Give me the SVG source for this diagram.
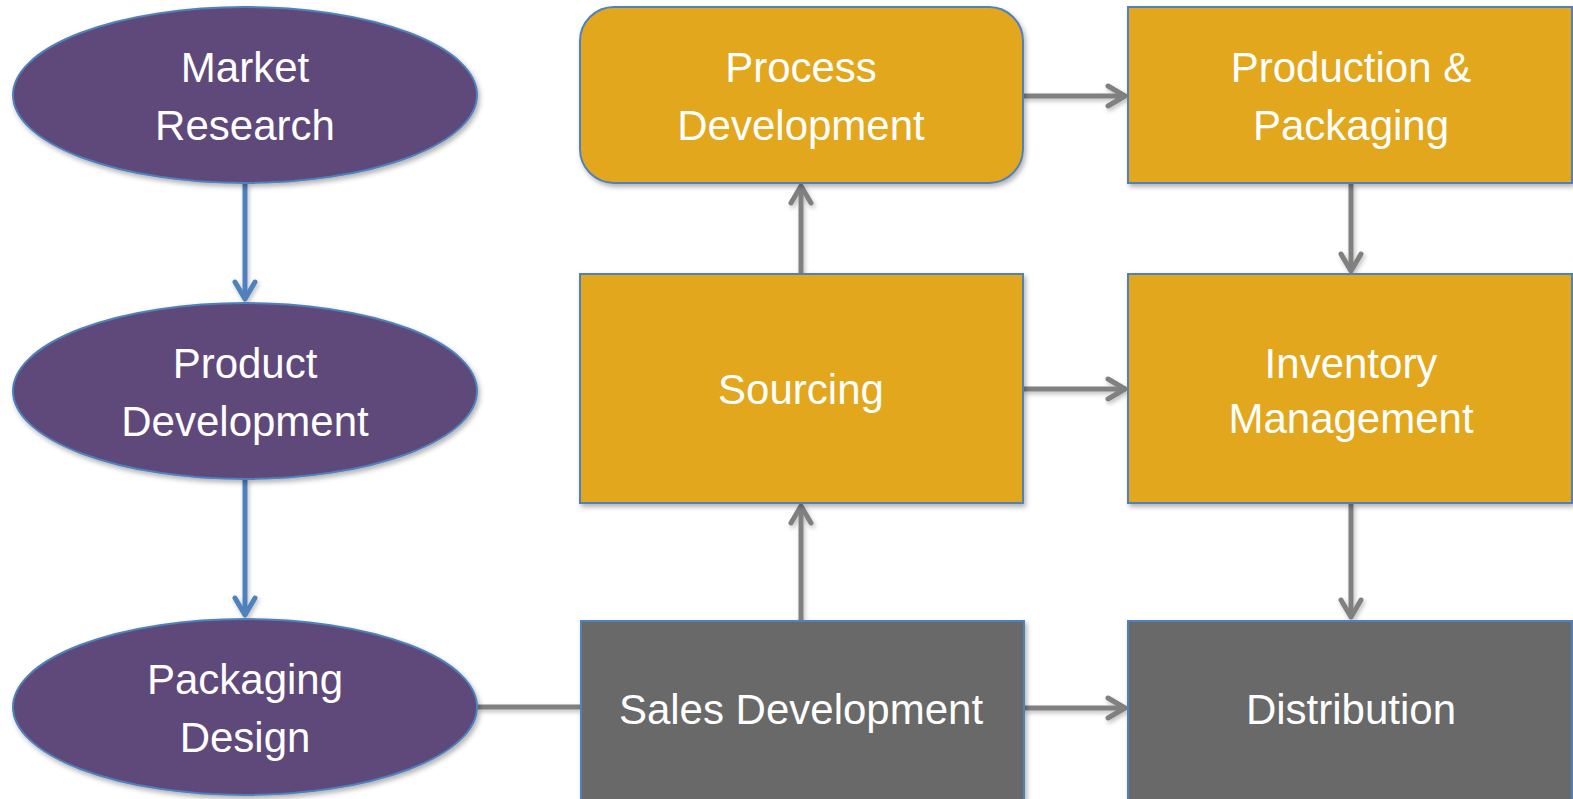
<svg xmlns="http://www.w3.org/2000/svg" width="1573" height="799" viewBox="0 0 1573 799">
<style>
.ell{fill:#5F497A;stroke:#4F81BD;stroke-width:2}
.gold{fill:#E2A71F;stroke:#4F81BD;stroke-width:2}
.gray{fill:#696969;stroke:#4F81BD;stroke-width:2}
.t{font-family:"Liberation Sans",Arial,sans-serif;font-size:42px;fill:#FFFFFF;text-anchor:middle}
.cg{stroke:#808080;stroke-width:5;fill:none}
.cb{stroke:#4F81BD;stroke-width:5;fill:none}
</style>
<defs>
<filter id="sh" x="-10%" y="-10%" width="120%" height="130%">
<feDropShadow dx="2" dy="3" stdDeviation="2.5" flood-color="#000" flood-opacity="0.3"/>
</filter>
<filter id="lsh" x="-20%" y="-20%" width="140%" height="140%">
<feDropShadow dx="1.5" dy="2.5" stdDeviation="2" flood-color="#000" flood-opacity="0.25"/>
</filter>
<marker id="ag" markerUnits="userSpaceOnUse" viewBox="-22 -13 25 26" markerWidth="25" markerHeight="26" refX="0" refY="0" orient="auto">
<path d="M-17,-10 L0,0 L-17,10" fill="none" stroke="#808080" stroke-width="5" stroke-linecap="round" stroke-linejoin="round"/>
</marker>
<marker id="ab" markerUnits="userSpaceOnUse" viewBox="-22 -13 25 26" markerWidth="25" markerHeight="26" refX="0" refY="0" orient="auto">
<path d="M-17,-10 L0,0 L-17,10" fill="none" stroke="#4F81BD" stroke-width="5" stroke-linecap="round" stroke-linejoin="round"/>
</marker>
</defs>
<rect width="1573" height="799" fill="#FFFFFF"/>
<g id="connectors" filter="url(#lsh)">
<line class="cb" x1="245" y1="183" x2="245" y2="299" marker-end="url(#ab)"/>
<line class="cb" x1="245" y1="479" x2="245" y2="615" marker-end="url(#ab)"/>
<line class="cg" x1="477" y1="707" x2="580" y2="707"/>
<line class="cg" x1="1024" y1="708" x2="1125" y2="708" marker-end="url(#ag)"/>
<line class="cg" x1="801" y1="620" x2="801" y2="506" marker-end="url(#ag)"/>
<line class="cg" x1="801" y1="273" x2="801" y2="186" marker-end="url(#ag)"/>
<line class="cg" x1="1023" y1="96" x2="1125" y2="96" marker-end="url(#ag)"/>
<line class="cg" x1="1023" y1="389" x2="1125" y2="389" marker-end="url(#ag)"/>
<line class="cg" x1="1351" y1="184" x2="1351" y2="271" marker-end="url(#ag)"/>
<line class="cg" x1="1351" y1="504" x2="1351" y2="617" marker-end="url(#ag)"/>
</g>
<g id="market-research">
<ellipse class="ell" cx="245" cy="95" rx="232" ry="88" filter="url(#sh)"/>
<text class="t" x="245" y="82">Market</text>
<text class="t" x="245" y="140">Research</text>
</g>
<g id="product-development">
<ellipse class="ell" cx="245" cy="391" rx="232" ry="88" filter="url(#sh)"/>
<text class="t" x="245" y="378">Product</text>
<text class="t" x="245" y="436">Development</text>
</g>
<g id="packaging-design">
<ellipse class="ell" cx="245" cy="707" rx="232" ry="88" filter="url(#sh)"/>
<text class="t" x="245" y="694">Packaging</text>
<text class="t" x="245" y="752">Design</text>
</g>
<g id="process-development">
<rect class="gold" x="580" y="7" width="443" height="176" rx="34" ry="34" filter="url(#sh)"/>
<text class="t" x="801" y="82">Process</text>
<text class="t" x="801" y="140">Development</text>
</g>
<g id="production-packaging">
<rect class="gold" x="1128" y="7" width="444" height="176" filter="url(#sh)"/>
<text class="t" x="1351" y="82">Production &amp;</text>
<text class="t" x="1351" y="140">Packaging</text>
</g>
<g id="sourcing">
<rect class="gold" x="580" y="274" width="443" height="229" filter="url(#sh)"/>
<text class="t" x="801" y="404">Sourcing</text>
</g>
<g id="inventory-management">
<rect class="gold" x="1128" y="274" width="444" height="229" filter="url(#sh)"/>
<text class="t" x="1351" y="378">Inventory</text>
<text class="t" x="1351" y="433">Management</text>
</g>
<g id="sales-development">
<rect class="gray" x="581" y="621" width="443" height="180" filter="url(#sh)"/>
<text class="t" x="801" y="724">Sales Development</text>
</g>
<g id="distribution">
<rect class="gray" x="1128" y="621" width="444" height="180" filter="url(#sh)"/>
<text class="t" x="1351" y="724">Distribution</text>
</g>
</svg>
